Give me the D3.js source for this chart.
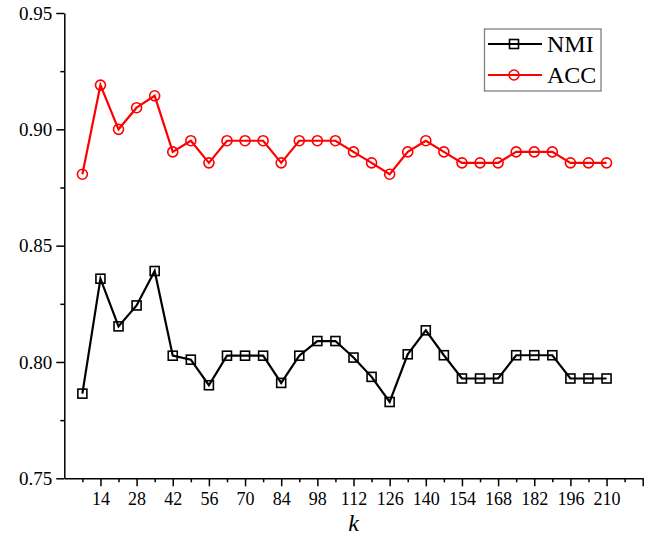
<!DOCTYPE html>
<html>
<head>
<meta charset="utf-8">
<script src="https://cdn.jsdelivr.net/npm/d3@7"></script>
<style>
  html, body { margin: 0; padding: 0; background: #fff; }
</style>
</head>
<body>
<svg id="chart" width="664" height="538"></svg>
<script>
const kValues = [7,14,21,28,35,42,49,56,63,70,77,84,91,98,105,112,119,126,133,140,147,154,161,168,175,182,189,196,203,210];
const nmiValues = [0.7864,0.8358,0.8153,0.8243,0.8391,0.8027,0.8010,0.7900,0.8027,0.8027,0.8027,0.7910,0.8027,0.8090,0.8090,0.8019,0.7936,0.7828,0.8033,0.8136,0.8029,0.7929,0.7929,0.7929,0.8029,0.8029,0.8029,0.7929,0.7929,0.7929];
const accValues = [0.8807,0.9190,0.9000,0.9093,0.9144,0.8903,0.8951,0.8856,0.8951,0.8951,0.8951,0.8856,0.8951,0.8951,0.8951,0.8903,0.8856,0.8807,0.8903,0.8951,0.8903,0.8856,0.8856,0.8856,0.8903,0.8903,0.8903,0.8856,0.8856,0.8856];
const xMajorTicks = [14,28,42,56,70,84,98,112,126,140,154,168,182,196,210,224];
const xLabelTicks = [14,28,42,56,70,84,98,112,126,140,154,168,182,196,210];
const xMinorTicks = [7,21,35,49,63,77,91,105,119,133,147,161,175,189,203,217];
const yMajorTicks = [0.75,0.80,0.85,0.90,0.95];
const yMinorTicks = [0.775,0.825,0.875,0.925];
const seriesNames = ["NMI","ACC"];
const seriesColors = ["#000000","#ff0000"];

const FONT = '"Liberation Serif"';
const svg = d3.select("#chart");
const mLeft = 64.3, mRight = 642.7, mTop = 13, mBottom = 478.3;
const x = d3.scaleLinear().domain([0,224]).range([mLeft,mRight]);
const y = d3.scaleLinear().domain([0.75,0.95]).range([mBottom,mTop]);

// X axis
const xAxis = svg.append("g").attr("transform", `translate(0,${mBottom})`);
xAxis.call(d3.axisBottom(x).tickValues(xMajorTicks).tickSize(8).tickSizeOuter(0)
  .tickFormat(d => xLabelTicks.includes(d) ? d : "").tickPadding(6));
xAxis.append("g").call(d3.axisBottom(x).tickValues(xMinorTicks).tickSize(4).tickSizeOuter(0).tickFormat(""))
  .select(".domain").remove();
xAxis.attr("font-family", null);
xAxis.selectAll("path, line").attr("stroke","#000").attr("stroke-width",1.5);
xAxis.selectAll("text").attr("font-size",18).attr("fill","#000").style("font-family", FONT);

// Y axis
const yAxis = svg.append("g").attr("transform", `translate(${mLeft},0)`);
yAxis.call(d3.axisLeft(y).tickValues(yMajorTicks).tickSize(8).tickSizeOuter(0).tickFormat(d3.format(".2f")).tickPadding(4));
yAxis.append("g").call(d3.axisLeft(y).tickValues(yMinorTicks).tickSize(4).tickSizeOuter(0).tickFormat(""))
  .select(".domain").remove();
yAxis.attr("font-family", null);
yAxis.selectAll("path, line").attr("stroke","#000").attr("stroke-width",1.5);
yAxis.selectAll("text").attr("font-size",19).attr("fill","#000").style("font-family", FONT);

// x label
svg.append("text").attr("x", (mLeft+mRight)/2).attr("y", 531)
  .attr("text-anchor","middle").attr("font-size",24).attr("font-style","italic")
  .style("font-family", FONT).text("k");

const line = d3.line().x(d => x(d[0])).y(d => y(d[1]));
const nmiData = kValues.map((k,i) => [k, nmiValues[i]]);
const accData = kValues.map((k,i) => [k, accValues[i]]);

function drawSquares(g, data, color) {
  g.selectAll("rect").data(data).join("rect")
    .attr("x", d => x(d[0]) - 4.5).attr("y", d => y(d[1]) - 4.5)
    .attr("width", 9).attr("height", 9)
    .attr("fill","none").attr("stroke", color).attr("stroke-width",1.6);
}
function drawCircles(g, data, color) {
  g.selectAll("circle").data(data).join("circle")
    .attr("cx", d => x(d[0])).attr("cy", d => y(d[1])).attr("r", 5)
    .attr("fill","none").attr("stroke", color).attr("stroke-width",1.6);
}

svg.append("path").datum(nmiData).attr("d", line).attr("fill","none")
  .attr("stroke", seriesColors[0]).attr("stroke-width",2.2);
drawSquares(svg.append("g"), nmiData, seriesColors[0]);
svg.append("path").datum(accData).attr("d", line).attr("fill","none")
  .attr("stroke", seriesColors[1]).attr("stroke-width",2.2);
drawCircles(svg.append("g"), accData, seriesColors[1]);

// Legend
const lg = svg.append("g");
lg.append("rect").attr("x",484.5).attr("y",29).attr("width",116.5).attr("height",62)
  .attr("fill","#fff").attr("stroke","#808080").attr("stroke-width",1.3);
const rowsY = [44, 75];
seriesNames.forEach((name, i) => {
  lg.append("line").attr("x1",488).attr("x2",542).attr("y1",rowsY[i]).attr("y2",rowsY[i])
    .attr("stroke",seriesColors[i]).attr("stroke-width",2.2);
  const mg = lg.append("g");
  if (i === 0) {
    mg.append("rect").attr("x",514-4.5).attr("y",rowsY[i]-4.5).attr("width",9).attr("height",9)
      .attr("fill","none").attr("stroke",seriesColors[i]).attr("stroke-width",1.6);
  } else {
    mg.append("circle").attr("cx",514).attr("cy",rowsY[i]).attr("r",5)
      .attr("fill","none").attr("stroke",seriesColors[i]).attr("stroke-width",1.6);
  }
  lg.append("text").attr("x",547).attr("y",rowsY[i]+8).attr("font-size",24).attr("fill","#000")
    .style("font-family", FONT).text(name);
});
</script>
</body>
</html>
